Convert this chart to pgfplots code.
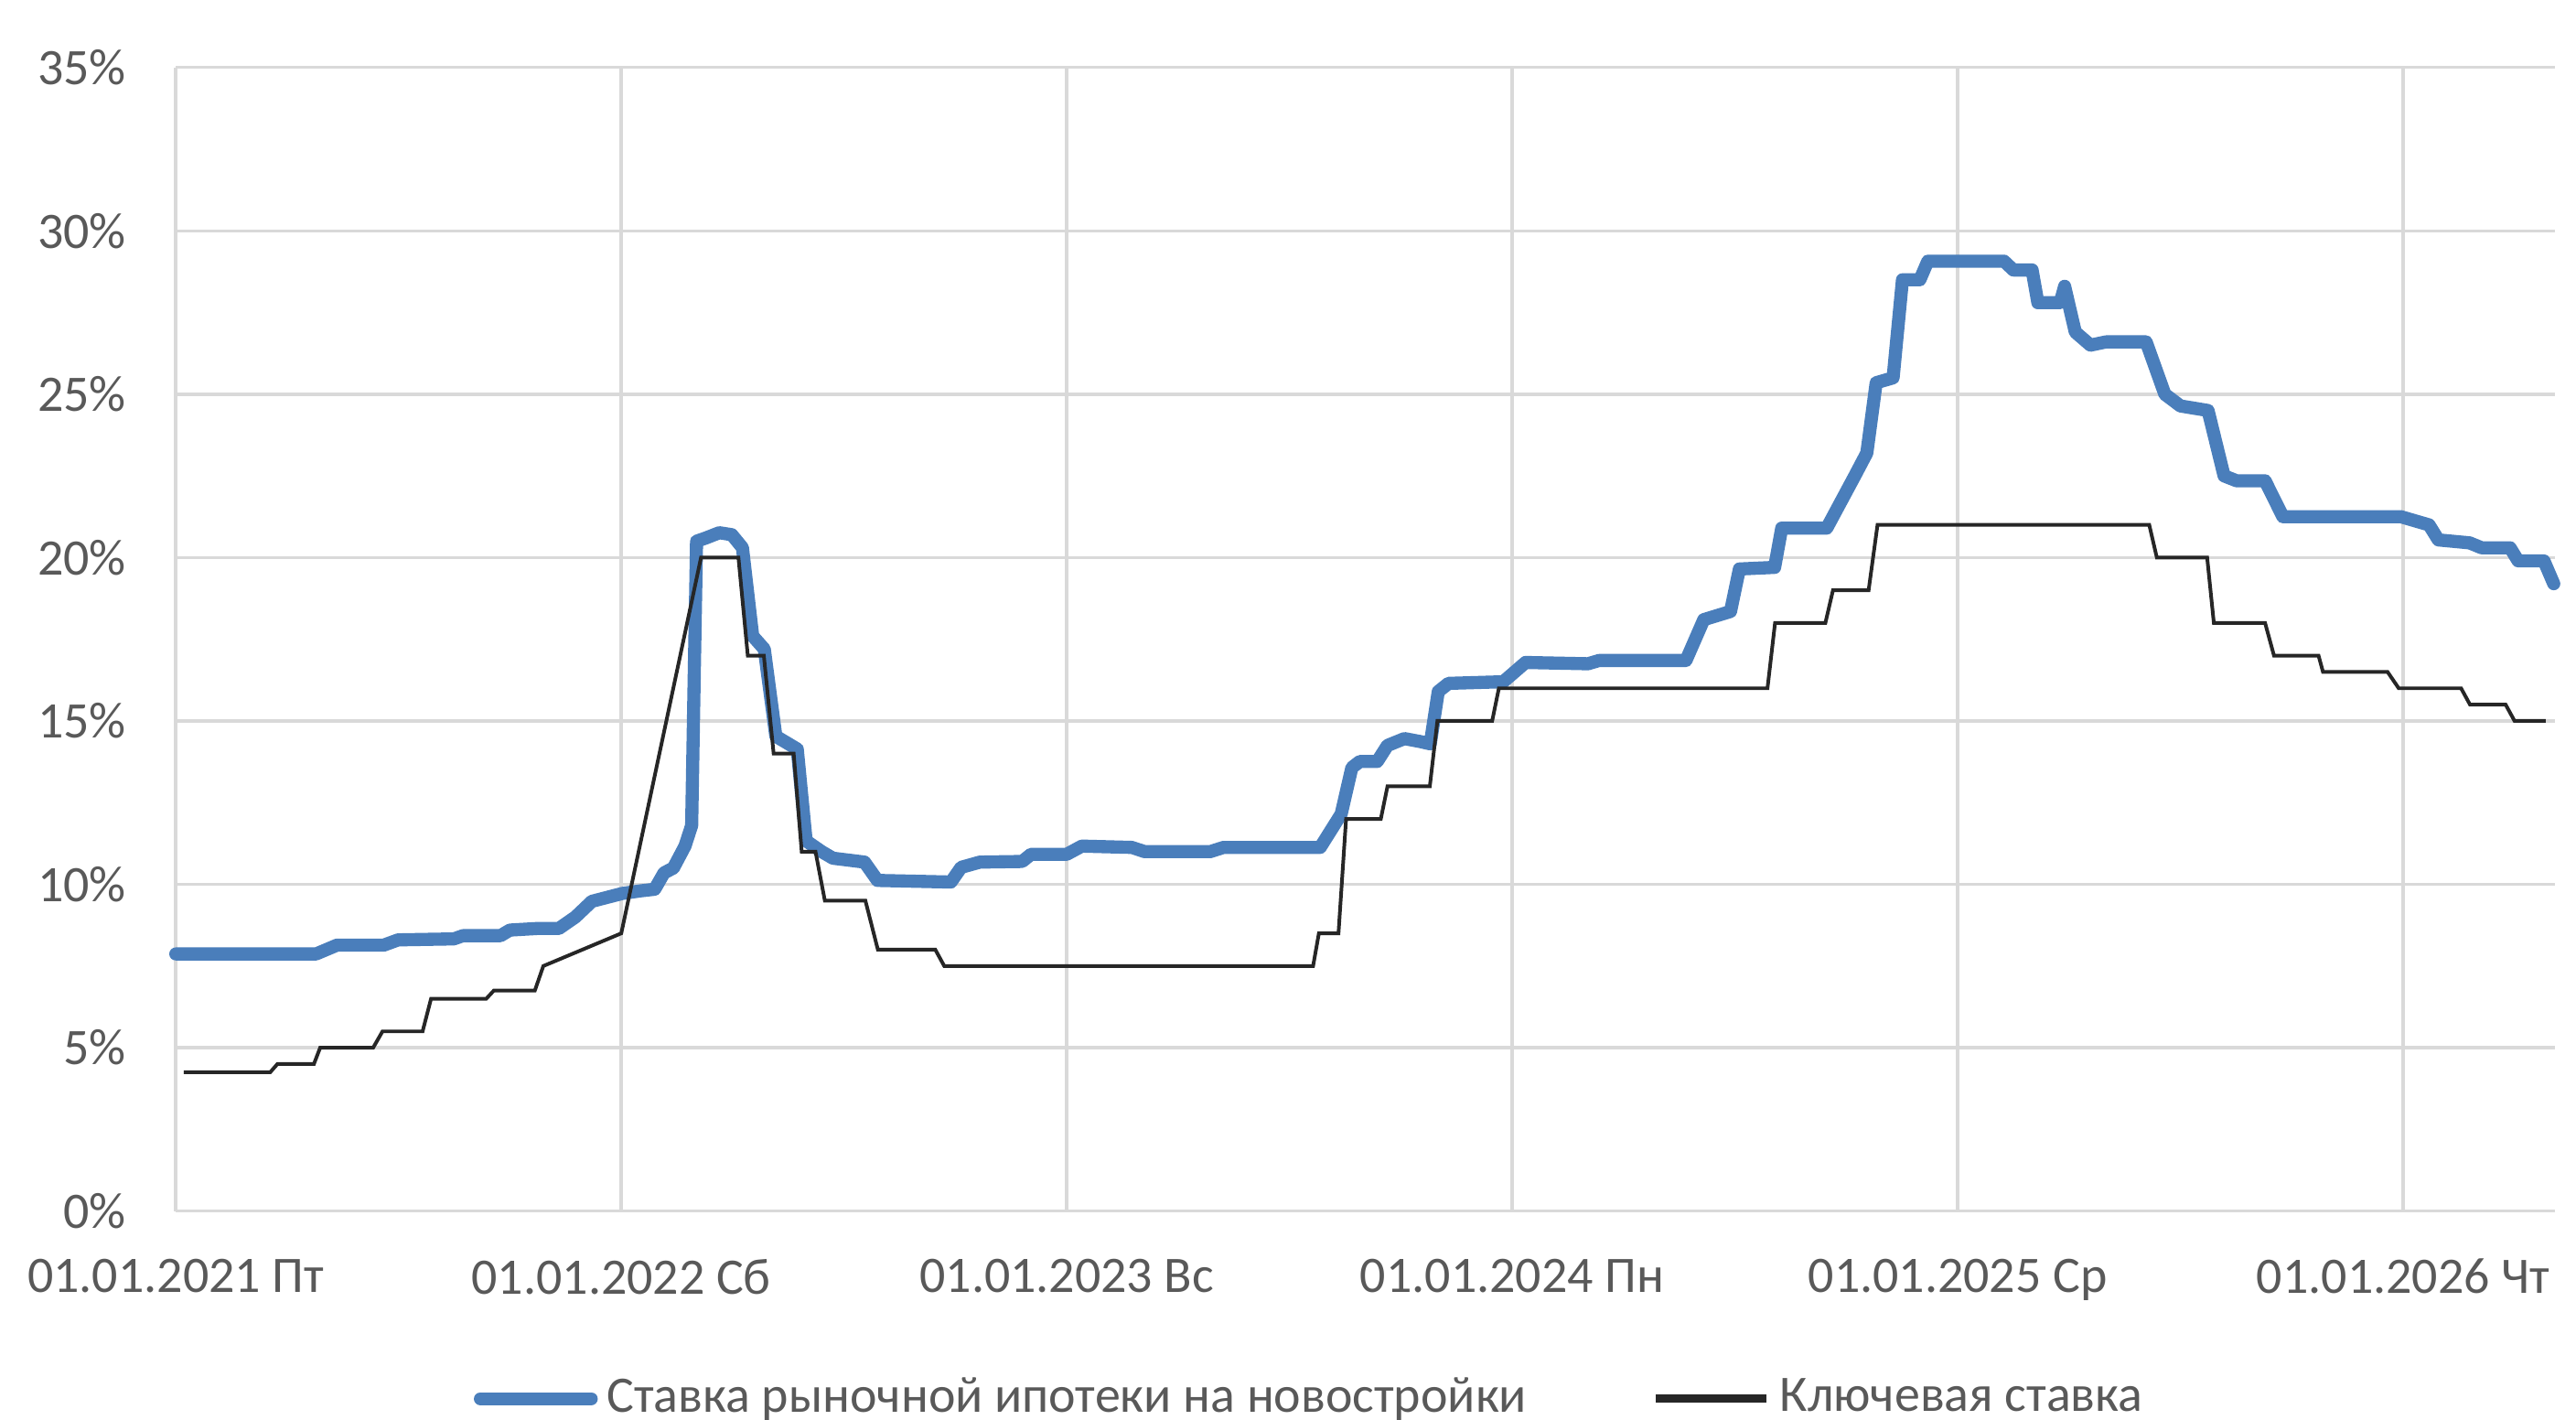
\documentclass[border=0pt]{standalone}
\usepackage{fontspec}
\setmainfont{Carlito}
\usepackage{pgfplots}
\pgfplotsset{compat=1.18}
\definecolor{mblue}{HTML}{4A7EBB}
\definecolor{kline}{HTML}{262626}
\definecolor{txt}{HTML}{595959}
\definecolor{gridc}{HTML}{D9D9D9}
\begin{document}
\begin{tikzpicture}
\begin{axis}[
  at={(0,0)}, anchor=south west,
  scale only axis, width=18.469cm, height=8.878cm,
  xmin=2021, xmax=2026.34, ymin=0, ymax=35,
  xtick={2021,2022,2023,2024,2025,2026},
  xticklabels={01.01.2021 Пт, 01.01.2022 Сб, 01.01.2023 Вс, 01.01.2024 Пн, 01.01.2025 Ср, 01.01.2026 Чт},
  ytick={0,5,10,15,20,25,30,35},
  yticklabel={\pgfmathprintnumber{\tick}\%},
  /pgf/number format/assume math mode=true,
  axis line style={draw=none},
  major tick length=0pt,
  grid=major,
  major grid style={draw=gridc, line width=0.7pt},
  ticklabel style={font=\fontsize{11.3}{13}\selectfont, text=txt},
  yticklabel style={inner sep=0pt, anchor=east, xshift=-0.38cm},
  xticklabel style={inner sep=0pt, anchor=north, yshift=-0.365cm},
  legend style={at={(0.478,-0.164)}, anchor=center, draw=none, fill=none,
    legend columns=2, font=\fontsize{11.3}{13}\selectfont, text=txt,
    /tikz/every even column/.append style={column sep=0.9cm}},
  legend image code/.code={\draw[#1] (0cm,0cm) -- (0.86cm,0cm);},
  clip=false,
]
\addplot[mblue, line width=2.9pt, line join=round, line cap=round] coordinates {
(2021.0,7.87) (2021.315,7.87) (2021.362,8.14) (2021.467,8.14) (2021.499,8.3)
(2021.624,8.33) (2021.645,8.43) (2021.729,8.43) (2021.75,8.6) (2021.813,8.65)
(2021.86,8.65) (2021.897,9.0) (2021.934,9.48) (2022.002,9.72) (2022.043,9.8)
(2022.075,9.85) (2022.096,10.35) (2022.117,10.5) (2022.143,11.17) (2022.158,11.8)
(2022.164,16.6) (2022.169,20.5) (2022.19,20.6) (2022.22,20.76) (2022.248,20.7)
(2022.272,20.3) (2022.295,17.6) (2022.321,17.2) (2022.347,14.53) (2022.395,14.14)
(2022.415,11.33) (2022.45,11.0) (2022.475,10.8) (2022.546,10.68) (2022.575,10.12)
(2022.74,10.07) (2022.763,10.52) (2022.805,10.68) (2022.9,10.7) (2022.92,10.92)
(2023.0,10.92) (2023.034,11.17) (2023.146,11.13) (2023.175,11.0) (2023.322,11.0)
(2023.352,11.13) (2023.569,11.13) (2023.616,12.15) (2023.64,13.57) (2023.658,13.76)
(2023.697,13.76) (2023.72,14.25) (2023.758,14.46) (2023.793,14.37) (2023.816,14.3)
(2023.834,15.9) (2023.857,16.15) (2023.98,16.2) (2024.03,16.79) (2024.17,16.75)
(2024.195,16.85) (2024.39,16.85) (2024.43,18.1) (2024.49,18.35) (2024.51,19.65)
(2024.589,19.7) (2024.605,20.9) (2024.706,20.9) (2024.769,22.5) (2024.796,23.2)
(2024.817,25.35) (2024.855,25.5) (2024.876,28.5) (2024.915,28.5) (2024.933,29.07)
(2025.104,29.07) (2025.125,28.8) (2025.167,28.8) (2025.18,27.8) (2025.23,27.8)
(2025.24,28.3) (2025.264,26.9) (2025.298,26.5) (2025.333,26.6) (2025.423,26.6)
(2025.465,25.0) (2025.5,24.64) (2025.562,24.5) (2025.598,22.5) (2025.626,22.35)
(2025.69,22.35) (2025.73,21.25) (2025.995,21.25) (2026.058,21.0) (2026.079,20.54)
(2026.149,20.45) (2026.176,20.3) (2026.24,20.3) (2026.258,19.9) (2026.316,19.9)
(2026.338,19.2)
};
\addlegendentry{Ставка рыночной ипотеки на новостройки}
\addplot[kline, line width=0.8pt, legend image post style={line width=1.8pt}] coordinates {
(2021.018,4.25) (2021.212,4.25) (2021.228,4.5) (2021.31,4.5) (2021.324,5)
(2021.443,5) (2021.464,5.5) (2021.554,5.5) (2021.573,6.5) (2021.697,6.5)
(2021.714,6.75) (2021.806,6.75) (2021.825,7.5) (2022.0,8.5) (2022.179,20)
(2022.263,20) (2022.284,17) (2022.32,17) (2022.342,14) (2022.387,14)
(2022.405,11) (2022.436,11) (2022.457,9.5) (2022.548,9.5) (2022.576,8)
(2022.705,8) (2022.725,7.5) (2023.553,7.5) (2023.566,8.5) (2023.61,8.5)
(2023.627,12) (2023.705,12) (2023.72,13) (2023.815,13) (2023.832,15)
(2023.955,15) (2023.97,16) (2024.573,16) (2024.59,18) (2024.703,18)
(2024.72,19) (2024.80,19) (2024.82,21) (2025.43,21) (2025.447,20)
(2025.56,20) (2025.575,18) (2025.69,18) (2025.71,17) (2025.81,17)
(2025.82,16.5) (2025.965,16.5) (2025.99,16) (2026.13,16) (2026.15,15.5)
(2026.23,15.5) (2026.25,15) (2026.32,15)
};
\addlegendentry{Ключевая ставка}
\end{axis}
\pgfresetboundingbox
\path (-1.365,-1.620) rectangle (18.635,9.401);
\end{tikzpicture}
\end{document}
